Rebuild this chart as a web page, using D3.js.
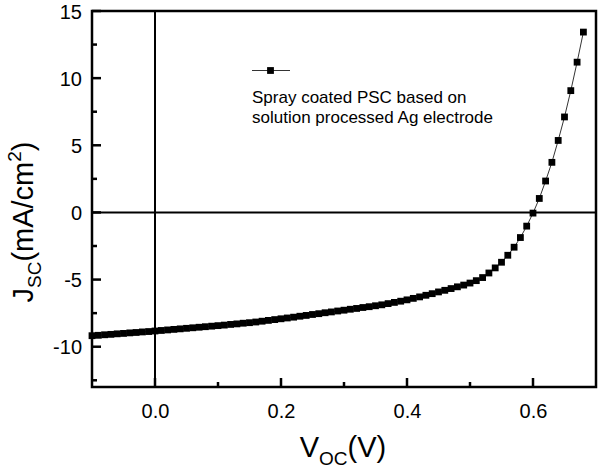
<!DOCTYPE html>
<html>
<head>
<meta charset="utf-8">
<script src="https://cdn.jsdelivr.net/npm/d3@7"></script>
<style>
	body { margin: 0; background: #fff; }
	text { font-family: "Liberation Sans", Arial, sans-serif; fill: #000; }
</style>
</head>
<body>
<div id="chart"></div>
<script>
// data: bias (V) and current density (mA/cm2)
var voltage = [
	-0.10, -0.09, -0.08, -0.07, -0.06, -0.05, -0.04, -0.03, -0.02, -0.01,
	0.00, 0.01, 0.02, 0.03, 0.04, 0.05, 0.06, 0.07, 0.08, 0.09,
	0.10, 0.11, 0.12, 0.13, 0.14, 0.15, 0.16, 0.17, 0.18, 0.19,
	0.20, 0.21, 0.22, 0.23, 0.24, 0.25, 0.26, 0.27, 0.28, 0.29,
	0.30, 0.31, 0.32, 0.33, 0.34, 0.35, 0.36, 0.37, 0.38, 0.39,
	0.40, 0.41, 0.42, 0.43, 0.44, 0.45, 0.46, 0.47, 0.48, 0.49,
	0.50, 0.51, 0.52, 0.53, 0.54, 0.55, 0.56, 0.57, 0.58, 0.59,
	0.60, 0.61, 0.62, 0.63, 0.64, 0.65, 0.66, 0.67, 0.68];
var current = [
	-9.18, -9.15, -9.11, -9.08, -9.04, -9.01, -8.97, -8.94, -8.90, -8.87,
	-8.83, -8.79, -8.75, -8.71, -8.67, -8.63, -8.59, -8.55, -8.51, -8.47,
	-8.43, -8.39, -8.34, -8.30, -8.25, -8.21, -8.16, -8.10, -8.04, -7.98,
	-7.92, -7.86, -7.80, -7.73, -7.67, -7.60, -7.54, -7.47, -7.41, -7.34,
	-7.28, -7.21, -7.15, -7.08, -7.02, -6.95, -6.88, -6.79, -6.70, -6.61,
	-6.51, -6.40, -6.29, -6.17, -6.05, -5.92, -5.80, -5.67, -5.54, -5.41,
	-5.26, -5.08, -4.85, -4.51, -4.13, -3.71, -3.19, -2.59, -1.87, -1.02,
	-0.05, 1.04, 2.34, 3.73, 5.36, 7.11, 9.07, 11.19, 13.43];

var xTicks = [0.0, 0.2, 0.4, 0.6];
var xMinor = [0.1, 0.3, 0.5];
var yTicks = [-10, -5, 0, 5, 10, 15];
var yMinor = [-12.5, -7.5, -2.5, 2.5, 7.5, 12.5];
var legendLines = ["Spray coated PSC based on", "solution processed Ag electrode"];

var width  = 600;
var height = 469;
var plotLeft = 92, plotRight = 596, plotTop = 11, plotBottom = 387;

const svg = d3.select('#chart').append('svg')
	.attr('width', width)
	.attr('height', height);

var x = d3.scaleLinear().domain([-0.1, 0.7]).range([plotLeft, plotRight]);
var y = d3.scaleLinear().domain([-13, 15]).range([plotBottom, plotTop]);

var points = voltage.map(function(v, i) { return [v, current[i]]; });

// zero lines
svg.append('line')
	.attr('x1', x(0)).attr('x2', x(0))
	.attr('y1', plotTop).attr('y2', plotBottom)
	.style('stroke', '#000').style('stroke-width', '2px');
svg.append('line')
	.attr('x1', plotLeft).attr('x2', plotRight)
	.attr('y1', y(0)).attr('y2', y(0))
	.style('stroke', '#000').style('stroke-width', '2px');

// axes: labels from d3 axis, tick marks drawn inward below
var xAxis = d3.axisBottom(x).tickValues(xTicks).tickSize(0).tickPadding(16)
	.tickFormat(d3.format('.1f'));
var yAxis = d3.axisLeft(y).tickValues(yTicks).tickSize(0).tickPadding(10)
	.tickFormat(function(d) { return String(d); });

var gx = svg.append('g')
	.attr('transform', 'translate(0,' + plotBottom + ')')
	.call(xAxis);
var gy = svg.append('g')
	.attr('transform', 'translate(' + plotLeft + ',0)')
	.call(yAxis);

[gx, gy].forEach(function(g) {
	g.select('.domain').remove();
	g.selectAll('text')
		.style('font-family', '"Liberation Sans", Arial, sans-serif')
		.style('font-size', '20px')
		.attr('fill', '#000');
});
gx.selectAll('text').attr('dy', '0.75em');
gy.selectAll('text').attr('dy', '0.36em');

// frame
svg.append('rect')
	.attr('x', plotLeft).attr('y', plotTop)
	.attr('width', plotRight - plotLeft).attr('height', plotBottom - plotTop)
	.style('fill', 'none').style('stroke', '#000').style('stroke-width', '2.5px');

function tickX(vals, len) {
	svg.append('g').selectAll('line')
		.data(vals).enter().append('line')
		.attr('x1', d => x(d)).attr('x2', d => x(d))
		.attr('y1', plotBottom).attr('y2', plotBottom - len)
		.style('stroke', '#000').style('stroke-width', '2.5px');
}
function tickY(vals, len) {
	svg.append('g').selectAll('line')
		.data(vals).enter().append('line')
		.attr('x1', plotLeft).attr('x2', plotLeft + len)
		.attr('y1', d => y(d)).attr('y2', d => y(d))
		.style('stroke', '#000').style('stroke-width', '2.5px');
}
tickX(xTicks, 9);
tickX(xMinor, 5);
tickY(yTicks, 9);
tickY(yMinor, 5);

// data
var line = d3.line().x(d => x(d[0])).y(d => y(d[1]));
svg.append('path')
	.datum(points)
	.attr('d', line)
	.style('fill', 'none')
	.style('stroke', '#000')
	.style('stroke-width', '0.8px');

var sq = 6.8;
svg.append('g').selectAll('rect')
	.data(points).enter().append('rect')
	.attr('x', d => x(d[0]) - sq / 2)
	.attr('y', d => y(d[1]) - sq / 2)
	.attr('width', sq).attr('height', sq)
	.style('fill', '#000');

// legend
svg.append('line')
	.attr('x1', 252).attr('x2', 290)
	.attr('y1', 70.5).attr('y2', 70.5)
	.style('stroke', '#000').style('stroke-width', '0.8px');
svg.append('rect')
	.attr('x', 270.5 - sq / 2).attr('y', 70.5 - sq / 2)
	.attr('width', sq).attr('height', sq)
	.style('fill', '#000');
svg.append('g').selectAll('text')
	.data(legendLines).enter().append('text')
	.attr('x', 252)
	.attr('y', (d, i) => 103 + i * 20)
	.style('font-size', '17px')
	.text(d => d);

// axis titles
var xt = svg.append('text')
	.attr('x', 343).attr('y', 457)
	.attr('text-anchor', 'middle')
	.style('font-size', '29px');
xt.append('tspan').text('V');
xt.append('tspan').attr('dy', 8).style('font-size', '19px').text('OC');
xt.append('tspan').attr('dy', -8).text('(V)');

var yt = svg.append('text')
	.attr('transform', 'translate(33,222) rotate(-90)')
	.attr('text-anchor', 'middle')
	.style('font-size', '29px');
yt.append('tspan').text('J');
yt.append('tspan').attr('dy', 8).style('font-size', '19px').text('SC');
yt.append('tspan').attr('dy', -8).text('(mA/cm');
yt.append('tspan').attr('dy', -12).style('font-size', '19px').text('2');
yt.append('tspan').attr('dy', 12).text(')');
</script>
</body>
</html>
